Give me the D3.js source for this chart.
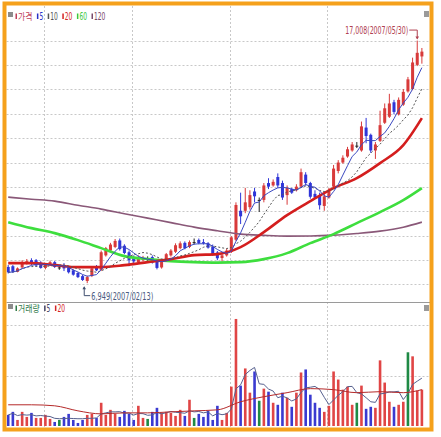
<!DOCTYPE html>
<html><head><meta charset="utf-8">
<script src="https://cdn.jsdelivr.net/npm/d3@7"></script>
<style>body{margin:0;background:#fff}svg{display:block}</style>
</head><body>
<svg id="c" width="441" height="437"></svg>
<script>
// ---------- DATA ----------
const opens  = [7620,7650,7420,7600,7780,7900,7900,7800,7580,7750,7820,7600,7700,7600,7480,7370,7240,7040,7250,7600,
                7500,8100,8300,8450,8720,8500,8230,8000,7820,7900,7950,8030,7900,7600,7880,8100,8250,8400,8620,8450,
                8650,8740,8650,8600,8450,8220,7990,8100,8250,8750,9950,9950,10100,10750,10400,10400,11100,11000,11350,11100,
                10600,10850,10800,10950,11450,11100,10650,10600,10150,10500,10950,11600,11950,12200,12450,12650,12450,13400,13100,12450,
                12850,13600,13850,14450,13950,14350,14900,15000,16000,16350];
const highs  = [7700,7700,7600,7900,7950,7980,7950,7860,7780,7880,7870,7700,7780,7650,7520,7400,7290,7260,7600,7700,
                8300,8450,8620,8780,8800,8560,8300,8100,8100,8080,8060,8100,7950,7950,8200,8360,8600,8680,8680,8720,
                8800,8800,8780,8650,8550,8280,8200,8380,8900,10300,10700,10900,10800,10900,10500,11100,11300,11250,11500,11200,
                11000,10900,11050,11700,11550,11150,10800,10700,10650,10900,11850,12050,12250,12600,12800,12800,13650,13800,13150,12800,
                14100,14400,14800,14550,14650,15000,15500,16300,17008,16700];
const lows   = [7350,7380,7400,7560,7720,7700,7650,7550,7520,7700,7580,7500,7450,7350,7260,7160,7040,6949,7200,7450,
                7450,8050,8250,8400,8300,8150,7650,7700,7780,7850,7830,7760,7520,7550,7850,8050,8200,8350,8350,8400,
                8550,8560,8550,8380,8080,7900,7850,8050,8200,8700,9400,9850,10000,10300,9900,10300,10850,10950,10900,10400,
                10200,10650,10750,10900,11000,10450,10450,10000,9950,10450,10900,11500,11900,12150,12400,12550,12400,12750,12350,12100,
                12800,13550,13800,13950,13900,14300,14850,14950,15950,16050];
const closes = [7400,7420,7560,7820,7860,7750,7680,7580,7720,7820,7620,7600,7560,7400,7300,7200,7080,7200,7560,7480,
                8230,8400,8550,8700,8360,8200,7900,7850,8000,8000,7950,7800,7580,7880,8150,8300,8520,8600,8400,8650,
                8650,8610,8600,8420,8120,7980,8100,8300,8850,10190,9720,10300,10600,10550,10400,11000,10950,11150,11000,10500,
                10900,10700,10950,11550,11100,10530,10500,10180,10550,10800,11700,11950,12150,12500,12700,12650,13450,13050,12450,12700,
                13500,14200,14400,14050,14550,14880,15400,16100,16500,16550];
const volumes = [220,280,120,280,180,260,160,160,220,140,80,120,180,240,120,60,120,220,240,160,
                 460,220,320,240,180,300,240,120,400,160,140,280,360,260,280,260,200,320,200,520,
                 160,240,180,300,120,400,120,260,780,2120,800,1140,660,1080,500,740,680,460,420,660,
                 560,380,660,1060,1120,620,460,360,280,400,1080,920,720,780,420,460,800,340,380,360,
                 1300,860,480,380,420,480,1460,1380,700,720];
const volColors = "bbrrrbrrrrbgbbbbbrrbrrrrbbbbrrgbbrrrrrbrgbbbbbrrrrbrrbgrbrbbrbrrbbbbrrrrrrrgrbbrrrrbrrgrrr";
// moving averages (index, value)
const maIdx   = [0,5,10,15,20,25,30,35,40,45,50,55,60,65,70,75,80,85,89];
const ma20    = [7779,7779,7696,7613,7613,7696,7820,7945,8110,8152,8442,9064,9770,10350,10890,11304,11927,12673,13793];
const ma60    = [9479,9230,9023,8733,8401,8069,7945,7862,7820,7800,7820,7945,8193,8608,8982,9437,9894,10392,10890];
const ma120   = [10516,10430,10350,10180,10019,9830,9645,9460,9272,9120,8982,8930,8899,8905,8940,9010,9106,9270,9479];
const volMa20 = [420,420,400,300,240,260,260,280,300,320,480,580,660,740,720,660,680,660,720];
const monthStarts = [8,27,48,69];
const priceGrid = d3.range(6900, 17001, 1010);
const volGrid = [1000, 2000];
const priceLegend = [["가격","#c0405a"],["5","#2630c8"],["10","#555555"],["20","#d42424"],["60","#3cc83c"],["120","#7a4a6a"]];
const volLegend = [["거래량","#2f7a4a"],["5","#444466"],["20","#d42424"]];
const hiLabel = "17,008(2007/05/30)", loLabel = "6,949(2007/02/13)";
const hiIdx = 88, loIdx = 17;

// ---------- CHART ----------
const N = closes.length;
const svg = d3.select('#c');
const L = 6.5, R = 430;
const x = d3.scaleBand().domain(d3.range(N)).range([6.7, 6.7 + N*4.63]).paddingInner(0.35);
const cx = i => x(i) + x.bandwidth()/2;
const yP = d3.scaleLinear().domain([6250, 18400]).range([300, 7]);
const yV = d3.scaleLinear().domain([0, 2450]).range([426, 302.3]);

svg.append('rect').attr('width',441).attr('height',437).attr('fill','#fff');

const defs = svg.append('defs');
defs.append('clipPath').attr('id','pc').append('rect').attr('x',L).attr('y',6).attr('width',R-L).attr('height',295);
defs.append('clipPath').attr('id','vc').append('rect').attr('x',L).attr('y',303).attr('width',R-L).attr('height',124);

// grid
const g = svg.append('g').attr('stroke','#c8c8c8').attr('stroke-dasharray','2,2').attr('stroke-width',1);
monthStarts.forEach(i => {
  const xx = Math.round(x(i)) + 0.5;
  g.append('line').attr('x1',xx).attr('x2',xx).attr('y1',6).attr('y2',427);
});
priceGrid.forEach(p => {
  const yy = Math.round(yP(p)) + 0.5;
  g.append('line').attr('x1',L).attr('x2',R).attr('y1',yy).attr('y2',yy);
});
volGrid.forEach(v => {
  const yy = Math.round(yV(v)) + 0.5;
  g.append('line').attr('x1',L).attr('x2',R).attr('y1',yy).attr('y2',yy);
});

// divider
svg.append('line').attr('x1',L).attr('x2',R+1).attr('y1',302.5).attr('y2',302.5).attr('stroke','#9a9a9a');

// candles
const UP = '#d83a3a', DN = '#2f35d8';
const cg = svg.append('g').attr('clip-path','url(#pc)');
const idx = d3.range(N);
const col = i => closes[i] > opens[i] ? UP : (closes[i] < opens[i] ? DN : '#222');
cg.selectAll('line.w').data(idx).join('line')
  .attr('x1', i => cx(i)).attr('x2', i => cx(i))
  .attr('y1', i => yP(highs[i])).attr('y2', i => yP(lows[i]))
  .attr('stroke', col).attr('stroke-width', 1);
cg.selectAll('rect.b').data(idx).join('rect')
  .attr('x', i => x(i)).attr('width', x.bandwidth())
  .attr('y', i => yP(Math.max(opens[i], closes[i])))
  .attr('height', i => Math.max(1, Math.abs(yP(opens[i]) - yP(closes[i]))))
  .attr('fill', col);

// moving averages
const sma = (arr, n) => arr.map((_, i) => d3.mean(arr.slice(Math.max(0, i - n + 1), i + 1)));
const ma5 = sma(closes, 5), ma10 = sma(closes, 10);
const lineFull = d3.line().x((d, i) => cx(i)).y(d => yP(d));
const lineSparse = (vals, ys) => d3.line().curve(d3.curveMonotoneX).x((d, k) => cx(maIdx[k])).y(d => ys(d))(vals);
cg.append('path').attr('d', lineSparse(ma120, yP)).attr('fill','none').attr('stroke','#8a5878').attr('stroke-width',1.6);
cg.append('path').attr('d', lineSparse(ma60, yP)).attr('fill','none').attr('stroke','#3ede3e').attr('stroke-width',2.6);
cg.append('path').attr('d', lineSparse(ma20, yP)).attr('fill','none').attr('stroke','#d41e1e').attr('stroke-width',2.6);
cg.append('path').attr('d', lineFull(ma10)).attr('fill','none').attr('stroke','#555').attr('stroke-width',1).attr('stroke-dasharray','2,2');
cg.append('path').attr('d', lineFull(ma5)).attr('fill','none').attr('stroke','#3a48c0').attr('stroke-width',1);

// volume bars
const vcol = {r:'#e04545', b:'#3a3ad0', g:'#1f8a45'};
const vg = svg.append('g').attr('clip-path','url(#vc)');
vg.selectAll('rect').data(idx).join('rect')
  .attr('x', i => cx(i) - 1.3).attr('width', 2.6)
  .attr('y', i => yV(volumes[i])).attr('height', i => yV(0) - yV(volumes[i]))
  .attr('fill', i => vcol[volColors[i]]);
const vma5 = sma(volumes, 5);
vg.append('path').attr('d', d3.line().x((d,i)=>cx(i)).y(d=>yV(d))(vma5)).attr('fill','none').attr('stroke','#56608e').attr('stroke-width',1);
vg.append('path').attr('d', lineSparse(volMa20, yV)).attr('fill','none').attr('stroke','#b52a2a').attr('stroke-width',1);

// legends
function legend(items, y0) {
  svg.append('rect').attr('x',8).attr('y',y0-6).attr('width',5).attr('height',5).attr('fill','#8c8c8c');
  let xx = 15.5;
  items.forEach(([t, c]) => {
    svg.append('rect').attr('x', xx).attr('y', y0-4.5).attr('width',1.5).attr('height',5.5).attr('fill', c);
    const ko = /[가-힣]/.test(t);
    const w = ko ? t.length*7.2 : t.length*3.8;
    svg.append('text').attr('x', xx+2.5).attr('y', y0+1.5).text(t)
      .attr('font-family', ko ? 'Noto Sans CJK KR' : 'Liberation Sans Narrow, DejaVu Sans Condensed, sans-serif')
      .attr('font-size', ko ? 9.5 : 10).attr('fill', c)
      .attr('textLength', w).attr('lengthAdjust','spacingAndGlyphs');
    xx += 2.5 + w + 4.5;
  });
}
legend(priceLegend, 18);
legend(volLegend, 310);

// small icons top right
[[424,11],[424,305]].forEach(([a,b]) => {
  svg.append('rect').attr('x',a).attr('y',b).attr('width',5).attr('height',6).attr('fill','#9a9a9a');
});

// annotations
const hx = cx(hiIdx), hy = yP(highs[hiIdx]);
svg.append('path').attr('d', `M${hx-8},${hy-10.5}H${hx}V${hy-2}`).attr('fill','none').attr('stroke','#b04050').attr('stroke-width',1);
svg.append('path').attr('d', `M${hx-1.8},${hy-4}L${hx},${hy-1}L${hx+1.8},${hy-4}Z`).attr('fill','#b04050');
svg.append('text').attr('x', hx-9).attr('y', hy-6.5).attr('text-anchor','end').text(hiLabel)
  .attr('font-family','Liberation Sans Narrow, DejaVu Sans Condensed, sans-serif').attr('font-size',10.5)
  .attr('fill','#b04050').attr('textLength',63).attr('lengthAdjust','spacingAndGlyphs');
const lx = cx(loIdx)-3, ly = yP(lows[loIdx]);
svg.append('path').attr('d', `M${lx},${ly+4}V${ly+12.5}H${lx+6}`).attr('fill','none').attr('stroke','#405070').attr('stroke-width',1);
svg.append('path').attr('d', `M${lx-1.8},${ly+6}L${lx},${ly+3}L${lx+1.8},${ly+6}Z`).attr('fill','#405070');
svg.append('text').attr('x', lx+7).attr('y', ly+16.5).text(loLabel)
  .attr('font-family','Liberation Sans Narrow, DejaVu Sans Condensed, sans-serif').attr('font-size',10.5)
  .attr('fill','#4a5a80').attr('textLength',62).attr('lengthAdjust','spacingAndGlyphs');

// orange frame
svg.append('rect').attr('x',4.5).attr('y',3.5).attr('width',427).attr('height',426)
  .attr('fill','none').attr('stroke','#f5a11c').attr('stroke-width',4);
</script>
</body></html>
